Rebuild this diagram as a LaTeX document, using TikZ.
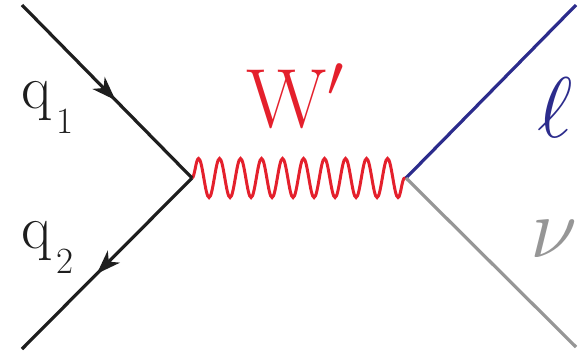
\RequirePackage{fix-cm}
\documentclass[tikz,border=0pt]{standalone}
\usetikzlibrary{arrows.meta,decorations.pathmorphing,decorations.markings}
\definecolor{wred}{RGB}{228,32,44}
\definecolor{lblue}{RGB}{44,44,140}
\definecolor{ngray}{RGB}{150,150,150}
\definecolor{qblack}{RGB}{30,30,30}
\newcommand{\biglab}[2]{\fontsize{#1}{#1}\selectfont #2}
\newcommand{\quarklab}[1]{\fontsize{62}{62}\selectfont q\hspace{5pt}\raisebox{-25pt}{\fontsize{37}{37}\selectfont #1}}
\tikzset{
  fermion/.style={line width=3.2pt, qblack},
  arrowat/.style={postaction={decorate, decoration={markings,
      mark=at position #1 with {\arrow{Stealth[length=24pt,width=17pt,inset=7pt]}}}}},
  boson/.style={line width=3pt, wred, decorate,
      decoration={snake, amplitude=19.5pt, segment length=21.0pt}},
  lab/.style={inner sep=0pt, anchor=base west},
}
\begin{document}
\begin{tikzpicture}[x=1pt,y=-1pt]
\useasboundingbox (0,0) rectangle (586,354);
\coordinate (a) at (22,5);
\coordinate (b) at (22,349);
\coordinate (v1) at (192,178);
\coordinate (v2) at (406,178);
\coordinate (c) at (576,5);
\coordinate (d) at (576,347);
\draw[boson] (v1) -- (v2);
\draw[fermion, arrowat=0.55] (a) -- (v1);
\draw[fermion, arrowat=0.56] (v1) -- (b);
\draw[line width=3.2pt, lblue] (v2) -- (c);
\draw[line width=3.2pt, ngray] (v2) -- (d);
\node[lab, text=qblack] (q1) at (21,108) {\quarklab{1}};
\node[lab, text=qblack] (q2) at (21,248) {\quarklab{2}};
\node[lab, text=wred] (w) at (246,127) {\biglab{84}{$\mathrm{W}'$}};
\node[lab, text=lblue] (l) at (537,137) {\biglab{86}{$\ell$}};
\node[lab, text=ngray] (n) at (530,257) {\biglab{86}{$\nu$}};
\end{tikzpicture}
\end{document}
